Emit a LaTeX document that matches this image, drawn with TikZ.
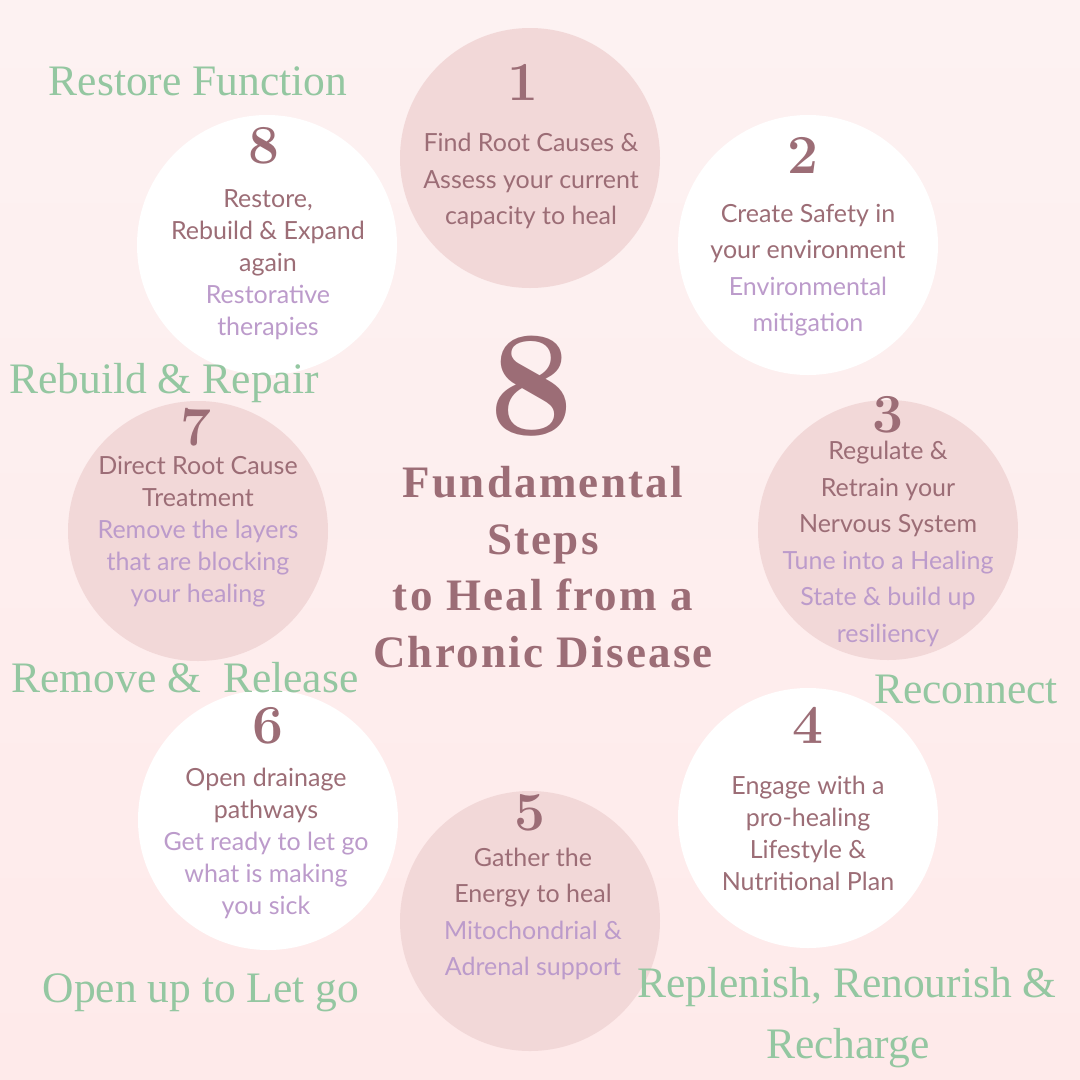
\documentclass[tikz,border=0pt]{standalone}
\usepackage{fontspec}
\newfontfamily\bodyfont{Lato}
\newfontfamily\titlefont{Liberation Serif}[LetterSpace=5]
\newfontfamily\lblfont{Liberation Serif}
\definecolor{mauve}{HTML}{9C6D76}
\definecolor{lav}{HTML}{BC9BCB}
\definecolor{grn}{HTML}{94C7A1}
\definecolor{pinkc}{HTML}{F2D8D8}
\definecolor{bgtop}{HTML}{FDF2F2}
\definecolor{bgbot}{HTML}{FEEAEA}
\tikzset{
  circbase/.style={circle, minimum size=260pt, inner sep=0pt, draw=none},
  pc/.style={circbase, fill=pinkc},
  wc/.style={circbase, fill=white},
  num/.style={font=\rmfamily\bfseries\fontsize{55}{55}\selectfont, text=mauve, inner sep=0pt},
  bodywide/.style={font=\bodyfont\fontsize{25}{36.5}\selectfont, text=mauve, align=center, inner sep=0pt},
  bodytight/.style={font=\bodyfont\fontsize{25}{32}\selectfont, text=mauve, align=center, inner sep=0pt},
  lbl/.style={font=\lblfont\fontsize{43.5}{43.5}\selectfont, text=grn, inner sep=0pt, anchor=base},
}
\begin{document}
\begin{tikzpicture}[x=1pt,y=-1pt]
\useasboundingbox (0,0) rectangle (1080,1080);
\shade[top color=bgtop, bottom color=bgbot] (0,0) rectangle (1080,1080);

% circles
\node[pc] (c1) at (530,158) {};
\node[wc] (c2) at (808,245) {};
\node[pc] (c3) at (888,530) {};
\node[wc] (c4) at (808,818) {};
\node[pc] (c5) at (530,921) {};
\node[wc] (c6) at (268,820) {};
\node[pc] (c7) at (198,531) {};
\node[wc] (c8) at (267,245) {};

% numbers
\node[num] (n1) at (523,82) {1};
\node[num] (n2) at (803,155) {2};
\node[num] (n3) at (888,415) {3};
\node[num] (n4) at (808,725) {4};
\node[num] (n5) at (530,813) {5};
\node[num] (n6) at (268,726) {6};
\node[num] (n7) at (196,427) {7};
\node[num] (n8) at (264,146) {8};

% circle texts
\node[bodywide] (t1) at (531,181) {Find Root Causes \&\\Assess your current\\capacity to heal};
\node[bodywide] (t2) at (808,270) {Create Safety in\\your environment\\\textcolor{lav}{Environmental}\\\textcolor{lav}{mitigation}};
\node[bodywide] (t3) at (888,544) {Regulate \&\\Retrain your\\Nervous System\\\textcolor{lav}{Tune into a Healing}\\\textcolor{lav}{State \& build up}\\\textcolor{lav}{resiliency}};
\node[bodytight] (t4) at (808,833) {Engage with a\\pro-healing\\Lifestyle \&\\Nutritional Plan};
\node[bodywide] (t5) at (533,914) {Gather the\\Energy to heal\\\textcolor{lav}{Mitochondrial \&}\\\textcolor{lav}{Adrenal support}};
\node[bodytight] (t6) at (266,843) {Open drainage\\pathways\\\textcolor{lav}{Get ready to let go}\\\textcolor{lav}{what is making}\\\textcolor{lav}{you sick}};
\node[bodytight] (t7) at (198,532) {Direct Root Cause\\Treatment\\\textcolor{lav}{Remove the layers}\\\textcolor{lav}{that are blocking}\\\textcolor{lav}{your healing}};
\node[bodytight] (t8) at (268,265) {Restore,\\Rebuild \& Expand\\again\\\textcolor{lav}{Restorative}\\\textcolor{lav}{therapies}};

% center title
\node[font=\rmfamily\bfseries\fontsize{150}{150}\selectfont, text=mauve, inner sep=0pt] (big8) at (532,386) {8};
\node[font=\titlefont\bfseries\fontsize{45}{56.5}\selectfont, text=mauve, align=center, inner sep=0pt] (title) at (543,567) {Fundamental\\Steps\\to Heal from a\\Chronic Disease};

% green labels
\node[lbl] (l8) at (198,95) {Restore Function};
\node[lbl] (l7) at (164,393) {Rebuild \& Repair};
\node[lbl] (l6) at (185,692) {Remove \&\ \ Release};
\node[lbl] (l3) at (966,703) {Reconnect};
\node[lbl] (l5) at (201,1002) {Open up to Let go};
\node[lbl] (l4a) at (847,997) {Replenish, Renourish \&};
\node[lbl] (l4b) at (848,1058) {Recharge};
\end{tikzpicture}
\end{document}
